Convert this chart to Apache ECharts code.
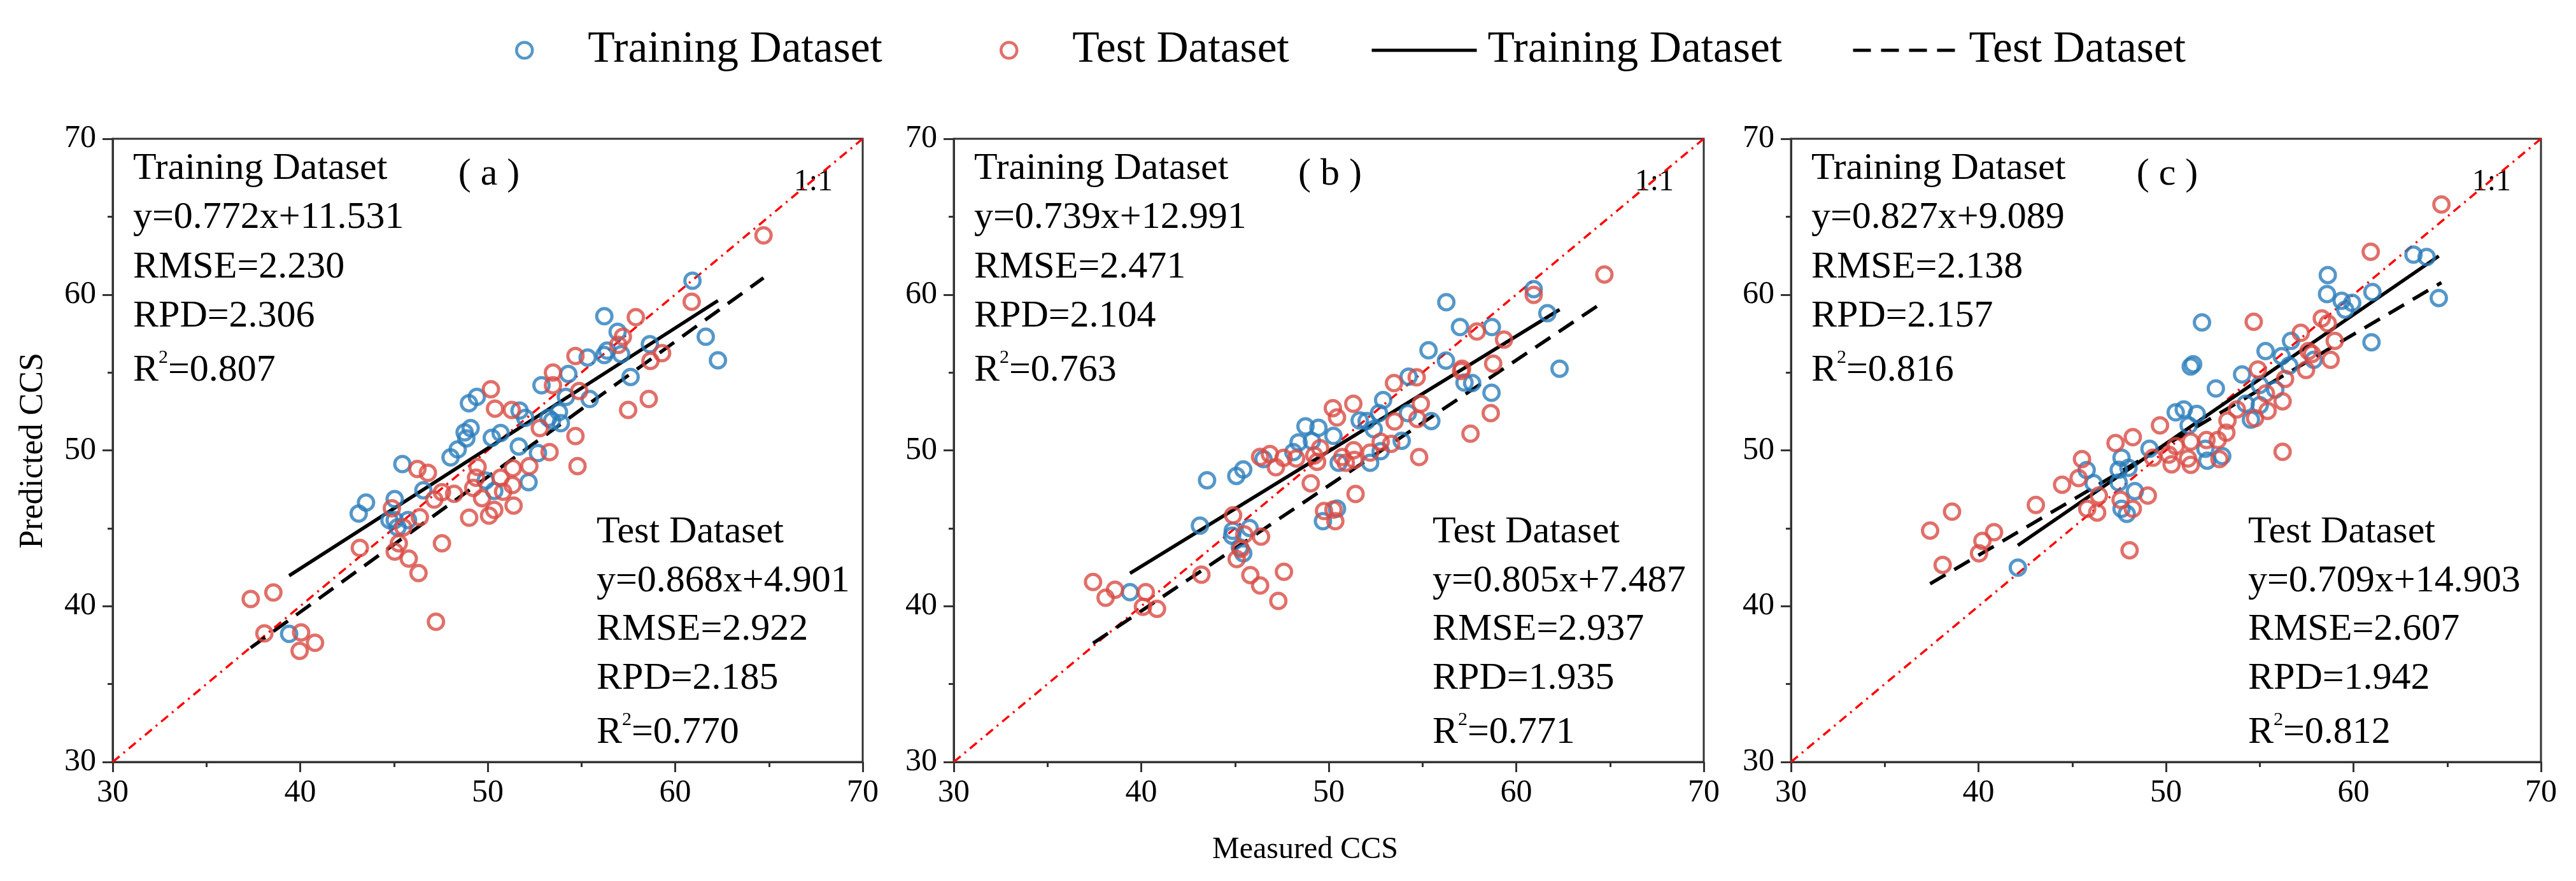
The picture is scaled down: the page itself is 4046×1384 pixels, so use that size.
<!DOCTYPE html>
<html><head><meta charset="utf-8">
<script src="https://cdn.jsdelivr.net/npm/echarts@6/dist/echarts.min.js"></script>
<style>html,body{margin:0;padding:0;background:#fff}#c{width:4046px;height:1384px}</style>
</head><body><div id="c"></div>
<script>
// ---- axis ----
const axisMin = 30, axisMax = 70, axisInterval = 10;
const panelLabels = ['( a )', '( b )', '( c )'];

// ---- panel (a) ----
const trainA = [[60.92,60.89],[56.22,58.61],[56.93,57.61],[61.63,57.29],[62.28,55.78],[58.65,56.81],[55.33,55.96],[56.22,56.12],[56.37,56.40],[57.12,56.17],[57.62,54.71],[54.30,54.90],[52.87,54.18],[55.44,53.30],[54.17,53.43],[49.00,53.02],[49.42,53.43],[51.70,52.55],[52.00,52.08],[53.24,52.08],[53.80,52.46],[53.90,51.75],[53.43,51.90],[48.77,51.15],[49.09,51.43],[48.86,50.77],[50.22,50.81],[50.69,51.11],[48.40,50.06],[48.02,49.55],[51.66,50.25],[52.68,49.83],[52.18,47.96],[45.45,49.12],[46.57,47.44],[49.89,48.06],[50.35,47.40],[43.51,46.65],[43.12,45.94],[45.04,46.87],[44.76,45.53],[45.04,45.53],[45.75,45.53],[45.19,45.06],[39.41,38.22]];
const testA = [[64.71,63.80],[60.88,59.54],[57.90,58.55],[57.21,57.29],[56.97,56.77],[59.30,56.24],[58.68,55.74],[54.68,56.06],[53.48,54.99],[53.48,54.18],[54.88,53.81],[58.59,53.30],[57.49,52.59],[50.17,53.92],[50.39,52.68],[51.28,52.59],[52.78,51.43],[54.68,50.92],[53.30,49.89],[54.79,48.99],[52.22,48.99],[49.46,48.94],[51.34,48.86],[46.25,48.80],[46.81,48.56],[49.38,48.24],[50.69,48.24],[51.32,47.77],[49.23,47.59],[50.82,47.34],[47.56,47.31],[48.21,47.21],[47.15,46.84],[49.70,46.93],[51.38,46.46],[50.35,46.18],[50.07,45.81],[49.01,45.68],[46.38,45.71],[44.89,46.28],[45.50,45.06],[45.26,44.03],[47.56,44.03],[45.04,43.50],[45.79,43.05],[46.31,42.12],[43.18,43.74],[37.36,40.46],[38.57,40.88],[47.24,39.00],[38.09,38.25],[40.05,38.31],[40.79,37.65],[39.97,37.13]];

// ---- panel (b) ----
const trainB = [[60.93,60.35],[56.27,59.51],[61.66,58.80],[57.00,57.92],[58.70,57.92],[55.32,56.42],[56.25,55.76],[62.31,55.24],[57.24,54.35],[57.65,54.32],[54.26,54.73],[58.68,53.70],[52.90,53.23],[52.68,52.39],[51.65,51.92],[52.02,51.88],[54.22,52.39],[55.47,51.88],[52.40,51.36],[48.76,51.54],[49.45,51.45],[50.25,50.93],[48.39,50.51],[49.10,50.60],[53.89,50.61],[52.77,49.95],[52.21,49.20],[50.53,49.20],[46.52,49.44],[48.11,49.89],[45.44,48.77],[45.07,48.36],[43.51,48.08],[43.13,45.17],[44.88,44.84],[45.78,45.02],[44.85,44.52],[45.26,43.77],[45.44,43.39],[50.44,46.26],[49.69,45.45],[39.40,40.90]];
const testB = [[64.70,61.29],[60.93,59.98],[57.90,57.63],[59.35,57.11],[58.77,55.57],[57.11,55.24],[57.06,55.10],[54.69,54.69],[53.48,54.32],[54.91,52.99],[54.73,52.01],[58.64,52.39],[57.56,51.07],[53.51,51.86],[50.22,52.71],[50.44,52.11],[51.31,52.99],[52.77,50.55],[53.33,50.42],[52.21,49.86],[51.33,50.01],[54.82,49.57],[49.54,50.14],[49.23,49.67],[49.38,49.26],[50.72,49.57],[50.91,49.20],[51.37,49.39],[46.34,49.58],[46.86,49.76],[47.59,49.52],[48.26,49.48],[47.18,48.92],[49.04,47.89],[51.43,47.20],[49.75,46.11],[50.25,46.20],[50.35,45.45],[44.90,45.83],[45.50,44.61],[46.39,44.46],[45.31,43.67],[45.09,43.02],[43.21,42.02],[45.82,41.99],[46.34,41.33],[47.61,42.21],[47.31,40.34],[37.43,41.55],[38.60,41.05],[38.10,40.54],[40.24,40.90],[40.09,39.96],[40.84,39.83]];

// ---- panel (c) ----
const trainC = [[63.20,62.56],[63.90,62.41],[64.55,59.78],[58.63,61.25],[58.59,60.03],[59.37,59.60],[59.93,59.47],[59.56,59.03],[61.01,60.16],[60.96,56.94],[51.92,58.21],[56.67,57.03],[55.31,56.37],[56.17,56.05],[57.88,55.81],[56.58,55.44],[51.45,55.53],[51.32,55.38],[54.06,54.87],[52.66,53.97],[55.00,54.20],[55.83,53.90],[54.25,52.99],[55.00,52.90],[54.53,51.97],[50.52,52.44],[50.95,52.63],[51.64,52.34],[51.21,51.60],[49.12,50.10],[52.10,50.10],[52.20,49.34],[53.00,49.63],[47.63,49.53],[47.48,48.75],[48.00,48.88],[45.77,48.73],[46.14,47.90],[47.48,47.94],[48.34,47.38],[47.63,46.25],[47.91,45.92],[42.10,42.47]];
const testC = [[64.69,65.78],[60.92,62.75],[54.68,58.25],[58.31,58.47],[58.63,58.15],[57.19,57.55],[59.00,57.03],[57.60,56.37],[57.79,56.19],[58.78,55.81],[57.47,55.16],[54.90,55.19],[56.35,54.59],[55.33,53.66],[56.22,53.15],[53.78,52.63],[55.42,52.53],[54.75,52.06],[53.28,51.91],[53.22,51.13],[49.68,51.60],[56.22,49.91],[52.16,50.66],[52.76,50.66],[51.32,50.56],[50.52,50.28],[50.15,49.72],[51.17,49.48],[52.85,49.44],[50.30,49.10],[51.32,49.07],[49.31,49.53],[48.23,50.85],[47.31,50.47],[45.52,49.44],[45.34,48.22],[44.46,47.79],[46.42,47.10],[47.58,46.82],[49.03,47.10],[45.80,46.25],[46.33,46.01],[48.23,46.25],[43.06,46.50],[48.06,43.59],[38.59,46.07],[37.42,44.85],[40.21,44.19],[40.83,44.75],[40.03,43.39],[38.09,42.65]];

// ---- fitted equations and statistics (as printed) ----
const trainSlope = [0.772, 0.739, 0.827];
const trainIntercept = [11.531, 12.991, 9.089];
const testSlope = [0.868, 0.805, 0.709];
const testIntercept = [4.901, 7.487, 14.903];
const trainEqText = ['y=0.772x+11.531', 'y=0.739x+12.991', 'y=0.827x+9.089'];
const trainRMSE = ['2.230', '2.471', '2.138'];
const trainRPD = ['2.306', '2.104', '2.157'];
const trainR2 = ['0.807', '0.763', '0.816'];
const testEqText = ['y=0.868x+4.901', 'y=0.805x+7.487', 'y=0.709x+14.903'];
const testRMSE = ['2.922', '2.937', '2.607'];
const testRPD = ['2.185', '1.935', '1.942'];
const testR2 = ['0.770', '0.771', '0.812'];
const identityLine = [[30, 30], [70, 70]];
const legendLabels = { trainPts: 'Training Dataset', testPts: 'Test Dataset', trainFit: 'Training Dataset', testFit: 'Test Dataset' };

const trainSets = [trainA, trainB, trainC];
const testSets = [testA, testB, testC];

// ---- layout / style ----
const FONT = 'Liberation Serif';
const BLUE = '#2A7DBB', RED = '#D94B44', AX = '#333';
const gridLefts = [177, 1498, 2813];
const GRID_W = 1178, GRID_TOP = 218, GRID_H = 979;
const testLeftOff = [760, 752, 718];

function fitLine(pts, k, b) {
  const xs = pts.map(p => p[0]);
  const x0 = Math.min(...xs), x1 = Math.max(...xs);
  return [[x0, k * x0 + b], [x1, k * x1 + b]];
}

const grids = [], xAxes = [], yAxes = [], series = [], graphics = [];
const axisCommon = {
  type: 'value', min: axisMin, max: axisMax, interval: axisInterval,
  axisLine: { show: true, onZero: false, lineStyle: { color: AX, width: 3 } },
  axisTick: { show: true, inside: false, length: 16, lineStyle: { color: AX, width: 3 } },
  minorTick: { show: true, splitNumber: 2, length: 8, lineStyle: { color: AX, width: 3 } },
  splitLine: { show: false }, minorSplitLine: { show: false },
};
for (let i = 0; i < 3; i++) {
  grids.push({ left: gridLefts[i], top: GRID_TOP, width: GRID_W, height: GRID_H, show: true, borderColor: AX, borderWidth: 3, backgroundColor: 'transparent', containLabel: false });
  xAxes.push(Object.assign({}, axisCommon, { gridIndex: i, position: 'bottom',
    axisLabel: { margin: 24, fontFamily: FONT, fontSize: 50, color: '#000' } }));
  yAxes.push(Object.assign({}, axisCommon, { gridIndex: i, position: 'left',
    axisLabel: { margin: 26, fontFamily: FONT, fontSize: 50, color: '#000' } }));
  series.push({ type: 'line', name: 'oneToOne', xAxisIndex: i, yAxisIndex: i, data: identityLine, symbol: 'none', silent: true, z: 1,
    lineStyle: { color: '#FF0000', width: 3.5, type: [14, 8, 3, 8] } });
  series.push({ type: 'line', name: 'trainFit', xAxisIndex: i, yAxisIndex: i, data: fitLine(trainSets[i], trainSlope[i], trainIntercept[i]), symbol: 'none', z: 2,
    itemStyle: { color: '#000' }, lineStyle: { color: '#000', width: 5.5, type: 'solid' } });
  series.push({ type: 'line', name: 'testFit', xAxisIndex: i, yAxisIndex: i, data: fitLine(testSets[i], testSlope[i], testIntercept[i]), symbol: 'none', z: 2,
    itemStyle: { color: '#000' }, lineStyle: { color: '#000', width: 5.5, type: [28, 16] } });
  series.push({ type: 'scatter', name: 'trainPts', xAxisIndex: i, yAxisIndex: i, data: trainSets[i], symbol: 'circle', symbolSize: 24, z: 3,
    itemStyle: { color: 'rgba(255,255,255,0)', borderColor: BLUE, borderWidth: 5 } });
  series.push({ type: 'scatter', name: 'testPts', xAxisIndex: i, yAxisIndex: i, data: testSets[i], symbol: 'circle', symbolSize: 24, z: 4,
    itemStyle: { color: 'rgba(255,255,255,0)', borderColor: RED, borderWidth: 5 } });

  const gl = gridLefts[i], gr = gl + GRID_W;
  const rich = { n: { fontFamily: FONT, fontSize: 60, lineHeight: 70, fill: '#000' },
                 s: { fontFamily: FONT, fontSize: 30, lineHeight: 40, verticalAlign: 'top', fill: '#000' } };
  const trainLines = ['Training Dataset', trainEqText[i], 'RMSE=' + trainRMSE[i], 'RPD=' + trainRPD[i]];
  const trainMid = [265, 342, 420, 497];
  trainLines.forEach((t, j) => graphics.push({ type: 'text', x: gl + 32, y: trainMid[j], silent: true,
    style: { text: t, fontFamily: FONT, fontSize: 60, fill: '#000', textAlign: 'left', textVerticalAlign: 'middle' } }));
  graphics.push({ type: 'text', x: gl + 32, y: 582, silent: true,
    style: { text: '{n|R}{s|2}{n|=' + trainR2[i] + '}', rich: rich, textAlign: 'left', textVerticalAlign: 'middle' } });
  const testLines = ['Test Dataset', testEqText[i], 'RMSE=' + testRMSE[i], 'RPD=' + testRPD[i]];
  const testMid = [836, 913, 989, 1066];
  testLines.forEach((t, j) => graphics.push({ type: 'text', x: gl + testLeftOff[i], y: testMid[j], silent: true,
    style: { text: t, fontFamily: FONT, fontSize: 60, fill: '#000', textAlign: 'left', textVerticalAlign: 'middle' } }));
  graphics.push({ type: 'text', x: gl + testLeftOff[i], y: 1151, silent: true,
    style: { text: '{n|R}{s|2}{n|=' + testR2[i] + '}', rich: rich, textAlign: 'left', textVerticalAlign: 'middle' } });
  graphics.push({ type: 'text', x: gl + 591, y: 274, silent: true,
    style: { text: panelLabels[i], fontFamily: FONT, fontSize: 60, fill: '#000', textAlign: 'center', textVerticalAlign: 'middle' } });
  graphics.push({ type: 'text', x: gr - 47, y: 286, silent: true,
    style: { text: '1:1', fontFamily: FONT, fontSize: 48, fill: '#000', textAlign: 'right', textVerticalAlign: 'middle' } });
}
graphics.push({ type: 'text', x: 52, y: 708, rotation: Math.PI / 2, silent: true,
  style: { text: 'Predicted CCS', fontFamily: FONT, fontSize: 52, fill: '#000', textAlign: 'center', textVerticalAlign: 'middle' } });
graphics.push({ type: 'text', x: 2050, y: 1335, silent: true,
  style: { text: 'Measured CCS', fontFamily: FONT, fontSize: 48, fill: '#000', textAlign: 'center', textVerticalAlign: 'middle' } });

// one legend component per entry so each can sit where the reference puts it
const legendLefts = [804, 1565, 2147, 2903];
const legendKeys = ['trainPts', 'testPts', 'trainFit', 'testFit'];
const legends = legendKeys.map((k, j) => ({
  left: legendLefts[j], top: 39,
  itemWidth: 165, itemHeight: 25, itemGap: 0,
  data: [j < 2 ? { name: k } : { name: k, itemStyle: { opacity: 0 } }],
  formatter: n => legendLabels[n],
  lineStyle: { width: 5 }, itemStyle: { borderWidth: 4.5 },
  textStyle: { fontFamily: FONT, fontSize: 69.5, color: '#000', padding: [0, 0, 0, 12] }
}));

const chart = echarts.init(document.getElementById('c'), null, { renderer: 'canvas' });
chart.setOption({
  backgroundColor: '#fff',
  animation: false,
  legend: legends,
  grid: grids, xAxis: xAxes, yAxis: yAxes, series: series, graphic: graphics
});
</script></body></html>
